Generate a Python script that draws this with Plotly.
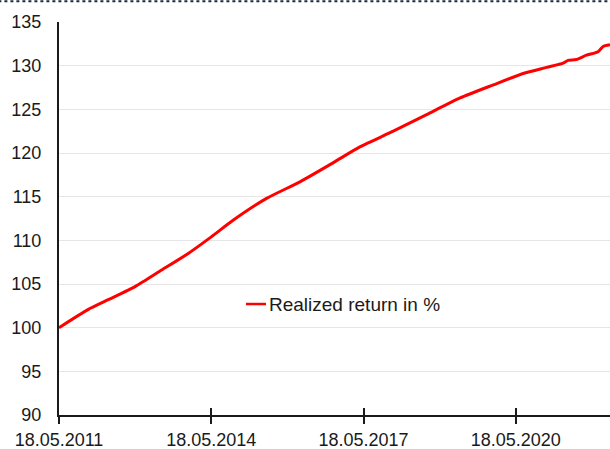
import plotly.graph_objects as go

dates = ["2011-05-18", "2011-12-15", "2012-05-06", "2012-11-15", "2013-05-26",
         "2013-12-03", "2014-05-18", "2014-10-22", "2015-06-20", "2016-02-15",
         "2016-10-13", "2017-04-21", "2017-12-18", "2018-08-15",
         "2019-04-13", "2019-12-08", "2020-07-10", "2020-12-25", "2021-04-24",
         "2021-05-30", "2021-07-27", "2021-10-08", "2021-12-31", "2022-02-05",
         "2022-03-27"]
values = [100.0, 102.1, 103.2, 104.7, 106.6,
          108.5, 110.4, 112.3, 114.8, 116.7,
          118.9, 120.7, 122.5, 124.4,
          126.3, 127.8, 129.1, 129.8, 130.3,
          130.6, 130.7, 131.2, 131.6, 132.2,
          132.4]

series_name = "Realized return in %"
x_tickvals = ["2011-05-18", "2014-05-18", "2017-05-18", "2020-05-18"]
x_ticktext = ["18.05.2011", "18.05.2014", "18.05.2017", "18.05.2020"]
y_tickvals = [90, 95, 100, 105, 110, 115, 120, 125, 130, 135]

FONT = "Liberation Sans, Arial, sans-serif"

fig = go.Figure()
fig.add_trace(go.Scatter(x=dates, y=values, mode="lines",
                         line=dict(color="#ff0000", width=3, shape="spline", smoothing=0.6),
                         name=series_name, showlegend=False))
# helper trace to draw the inner halves of the crossing x ticks
fig.add_trace(go.Scatter(x=[], y=[], xaxis="x2", showlegend=False))

fig.update_layout(
    width=610, height=449,
    margin=dict(l=59, r=0, t=22, b=34),
    paper_bgcolor="white", plot_bgcolor="white",
    font=dict(family=FONT, color="#1a1a1a", size=18),
    xaxis=dict(type="date", range=["2011-05-18", "2022-03-27"],
               tickvals=x_tickvals, ticktext=x_ticktext, automargin=False,
               showgrid=False, showline=True, linecolor="#1a1a1a", linewidth=2,
               ticks="outside", ticklen=7, tickwidth=1.5, tickcolor="#1a1a1a",
               ticklabelstandoff=0, tickfont=dict(size=18), zeroline=False),
    xaxis2=dict(type="date", range=["2011-05-18", "2022-03-27"], overlaying="x",
                anchor="y", side="bottom", tickvals=x_tickvals, showticklabels=False,
                ticks="inside", ticklen=7, tickwidth=1.5, tickcolor="#1a1a1a",
                showgrid=False, showline=False, zeroline=False, automargin=False),
    yaxis=dict(range=[90, 135], tickvals=y_tickvals, automargin=False,
               showgrid=True, gridcolor="#e6e6e6", gridwidth=1,
               showline=True, linecolor="#1a1a1a", linewidth=2,
               ticks="", ticklabelstandoff=12, tickfont=dict(size=18),
               zeroline=False),
    shapes=[
        dict(type="line", xref="paper", yref="paper", x0=-0.11, x1=1.0,
             y0=1.053, y1=1.053, line=dict(color="#1f2a44", width=2, dash="dot")),
        dict(type="line", xref="paper", yref="paper", x0=0.3394, x1=0.3757,
             y0=0.2824, y1=0.2824, line=dict(color="#ff0000", width=2.5)),
    ],
    annotations=[
        dict(text=series_name, xref="paper", yref="paper", x=0.3775, y=0.2824,
             xanchor="left", yanchor="middle", showarrow=False,
             font=dict(size=19, family=FONT, color="#1a1a1a")),
    ],
)

fig.write_html("out.html", config={"displayModeBar": False},
               post_script="document.body.style.margin='0';document.body.style.padding='0';")
